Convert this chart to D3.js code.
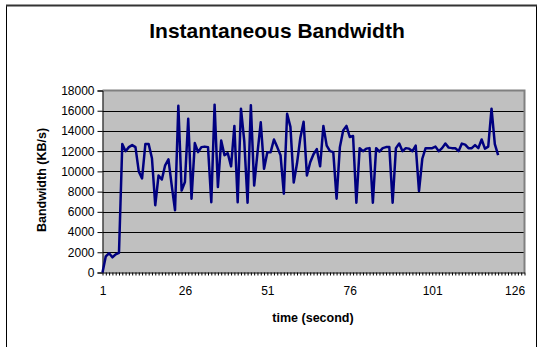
<!DOCTYPE html>
<html>
<head>
<meta charset="utf-8">
<script src="https://cdn.jsdelivr.net/npm/d3@7"></script>
<style>
  body { margin: 0; background: #fff; }
  text { font-family: "Liberation Sans", Arial, sans-serif; }
</style>
</head>
<body>
<div id="chart"></div>
<script>
// bandwidth per second, KB/s
const bandwidth = [
  0, 1600, 1900, 1500, 1800, 1950, 12700, 12000, 12400, 12600,
  12400, 10000, 9300, 12700, 12700, 11300, 6650, 9600, 9200, 10600,
  11200, 8600, 6150, 16500, 8100, 8950, 15200, 7300, 12800, 11900,
  12400, 12450, 12400, 6950, 16600, 8450, 13050, 11600, 11800, 10500,
  14500, 6950, 16200, 13000, 6900, 16550, 8600, 11800, 14850, 10250,
  11900, 11900, 13150, 12400, 11600, 7800, 15700, 14400, 8900, 10800,
  13300, 14900, 9600, 10900, 11700, 12200, 10500, 14500, 12550, 12000,
  11900, 7300, 12400, 14050, 14500, 13400, 13500, 6900, 12300, 12000,
  12250, 12300, 6900, 12300, 11950, 12300, 12400, 12400, 6900, 12300,
  12750, 12000, 12300, 12250, 12000, 12550, 8050, 11250, 12300, 12300,
  12300, 12450, 12000, 12300, 12750, 12350, 12300, 12300, 12000, 12750,
  12650, 12300, 12300, 12600, 12300, 13150, 12250, 12450, 16200, 12700,
  11600
]
const xTickLabels = [1, 26, 51, 76, 101, 126]
const yTicks = [0, 2000, 4000, 6000, 8000, 10000, 12000, 14000, 16000, 18000]
const categoryCount = 129

const width = 541, height = 347
const margin = {left: 102.5, right: 16, top: 90.5, bottom: 74.5}

const svg = d3.select('#chart').append('svg')
.attr('width', width)
.attr('height', height)

// outer chart frame
svg.append('rect')
.attr('x', 6.5).attr('y', 5.5)
.attr('width', 530).attr('height', 345)
.attr('fill', 'none')
.attr('stroke', '#000')
.attr('stroke-width', 1)
svg.append('line')
.attr('x1', 6).attr('x2', 537).attr('y1', 5.5).attr('y2', 5.5)
.attr('stroke', '#333').attr('stroke-width', 2)

const x = d3.scaleLinear()
.domain([1, categoryCount])
.range([margin.left, width - margin.right - 0.5])

const y = d3.scaleLinear()
.domain([0, 18000])
.range([height - margin.bottom, margin.top])

const plot = svg.append('g')

plot.append('rect')
.attr('x', x(1)).attr('y', y(18000))
.attr('width', x(categoryCount) - x(1))
.attr('height', y(0) - y(18000))
.attr('fill', '#C0C0C0')

// gridlines
plot.append('g')
.selectAll('line')
.data(yTicks.filter(d => d > 0 && d < 18000))
.enter()
.append('line')
.attr('x1', x(1)).attr('x2', x(categoryCount))
.attr('y1', d => Math.round(y(d)) + 0.5)
.attr('y2', d => Math.round(y(d)) + 0.5)
.attr('stroke', '#000')
.attr('stroke-width', 1)

// plot border top / right
plot.append('path')
.attr('d', `M${x(1)},${y(18000)}H${x(categoryCount)}V${y(0)}`)
.attr('fill', 'none')
.attr('stroke', '#808080')
.attr('stroke-width', 2)

// y axis
const yAxis = svg.append('g')
.attr('transform', `translate(${x(1)},0)`)
.call(d3.axisLeft(y).tickValues(yTicks).tickSize(5).tickPadding(3).tickFormat(d3.format('d')))
yAxis.select('.domain').attr('stroke', '#000')
yAxis.selectAll('.tick line').attr('stroke', '#000')
yAxis.selectAll('text')
.attr('font-size', 12)
.attr('fill', '#000')
.attr('font-family', '"Liberation Sans", Arial, sans-serif')

// x axis: a small tick for every category, labels every 25
const xAxis = svg.append('g')
.attr('transform', `translate(0,${y(0)})`)
.call(d3.axisBottom(x).tickValues(d3.range(1, categoryCount + 1)).tickSize(3).tickSizeOuter(0).tickFormat(d => xTickLabels.includes(d) ? d : ''))
xAxis.select('.domain').attr('stroke', '#000')
xAxis.selectAll('.tick line').attr('stroke', '#000')
xAxis.selectAll('text')
.attr('font-size', 12)
.attr('fill', '#000')
.attr('dy', '1.4em')
.attr('font-family', '"Liberation Sans", Arial, sans-serif')

// the series
const line = d3.line()
.x((d, i) => x(i + 1))
.y(d => y(d))

svg.append('path')
.datum(bandwidth)
.attr('d', line)
.attr('fill', 'none')
.attr('stroke', '#000080')
.attr('stroke-width', 2.5)
.attr('stroke-linejoin', 'round')

// titles
svg.append('text')
.attr('x', 277).attr('y', 38)
.attr('text-anchor', 'middle')
.attr('font-size', 21)
.attr('font-weight', 'bold')
.text('Instantaneous Bandwidth')

svg.append('text')
.attr('x', 313).attr('y', 322)
.attr('text-anchor', 'middle')
.attr('font-size', 12.5)
.attr('font-weight', 'bold')
.text('time (second)')

svg.append('text')
.attr('transform', 'translate(46,180) rotate(-90)')
.attr('text-anchor', 'middle')
.attr('font-size', 12.5)
.attr('font-weight', 'bold')
.text('Bandwidth (KB/s)')
</script>
</body>
</html>
